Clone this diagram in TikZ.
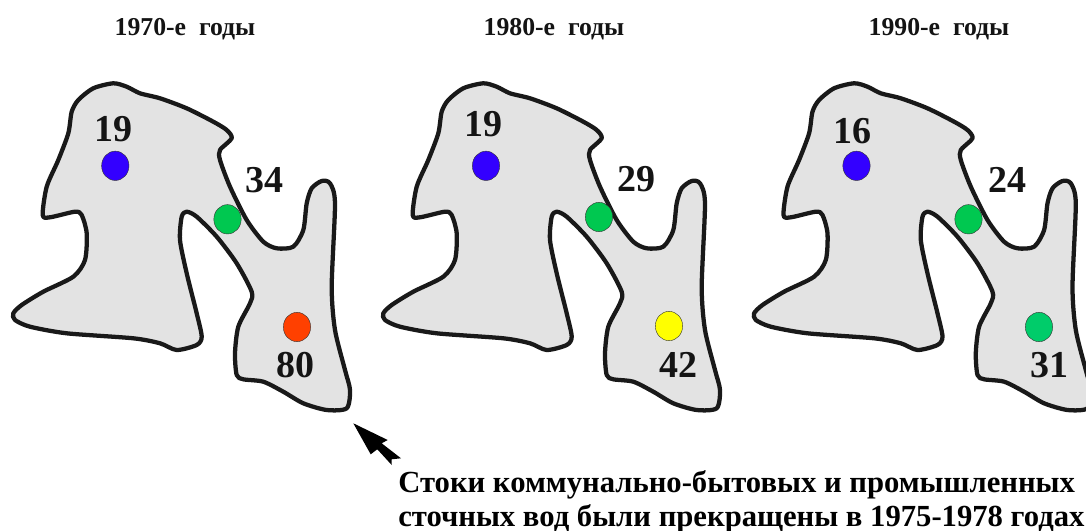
\documentclass[tikz,border=0pt]{standalone}
\usepackage{fontspec}
\usetikzlibrary{shapes.geometric}
\setmainfont{Liberation Serif}
\newcommand{\lakeoutline}{
 (140.0,93.3) (126.7,86.7) (113.3,83.3) (93.3,88.3) (78.3,100.0) (71.7,111.7) (68.3,133.3) (58.3,160.0) (46.7,186.7) (42.7,215.0)
 (50.0,217.3) (75.0,211.7) (81.7,215.0) (86.7,233.3) (85.0,260.0) (73.3,276.7) (43.3,291.7) (21.7,305.0) (13.3,313.3)
 (15.0,320.0) (30.0,326.7) (66.7,333.3) (133.3,338.3) (160.0,343.3) (176.7,350.0) (196.7,345.0) (201.7,336.7)
 (196.7,313.3) (186.7,273.3) (180.0,240.0) (181.7,216.7) (186.7,211.7) (196.7,216.7) (216.7,236.7) (236.7,263.3)
 (251.7,291.7) (250.0,303.3) (238.3,326.7) (235.0,353.3) (236.7,375.0) (243.3,379.3) (263.3,381.7) (283.3,391.7)
 (303.3,403.3) (326.7,410.0) (346.7,408.3) (350.0,390.0) (345.0,370.0) (335.0,330.0) (331.7,286.7) (335.0,203.3)
 (330.0,183.3) (321.7,181.0) (311.7,188.3) (306.7,203.3) (303.3,230.0) (293.3,246.7) (276.7,248.3) (263.3,241.7)
 (246.7,220.0) (230.0,186.7) (220.0,160.0) (220.0,150.0) (231.7,138.3) (226.7,130.0) (213.3,121.7) (186.7,108.3) (160.0,98.3)
}
\tikzset{
 x=0.75pt,y=-0.75pt,
 lake/.style={draw=black!90,fill=black!11,line width=3.2pt,line join=round,smooth cycle,tension=0.45},
 site/.style={ellipse,draw=black!80,line width=0.3pt,minimum width=20.5pt,minimum height=22pt,inner sep=0pt},
 years/.style={font=\bfseries\fontsize{19.3pt}{22pt}\selectfont,text=black!92},
 count/.style={font=\bfseries\fontsize{28.5pt}{30pt}\selectfont,text=black!92},
 note/.style={font=\bfseries\fontsize{23pt}{25.4pt}\selectfont,align=left,anchor=north west,inner sep=0pt}
}
\definecolor{sblue}{HTML}{3300FF}
\definecolor{sgreen}{HTML}{00C850}
\definecolor{sgreenb}{HTML}{00CC6A}
\definecolor{sred}{HTML}{FF4000}
\definecolor{syellow}{HTML}{FFFF00}
\begin{document}
\begin{tikzpicture}
\useasboundingbox (0,0) rectangle (1086,531);
\clip (0,0) rectangle (1086,531);
\fill[white] (0,0) rectangle (1086,531);
\node[years] (y1) at (185,29) {1970-е\ \ годы};
\node[years] (y2) at (554,29) {1980-е\ \ годы};
\node[years] (y3) at (939,29) {1990-е\ \ годы};
\draw[lake] plot coordinates {\lakeoutline};
\begin{scope}[xshift=277.5pt]
\draw[lake] plot coordinates {\lakeoutline};
\end{scope}
\begin{scope}[xshift=555.6pt]
\draw[lake] plot coordinates {\lakeoutline};
\end{scope}
\node[site,fill=sblue] (a1) at (115.3,165.8) {};
\node[site,fill=sgreen] (a2) at (227.5,219.3) {};
\node[site,fill=sred] (a3) at (297,327) {};
\node[site,fill=sblue] (b1) at (486,165.8) {};
\node[site,fill=sgreen] (b2) at (599,217) {};
\node[site,fill=syellow] (b3) at (669,326) {};
\node[site,fill=sblue] (c1) at (856.5,165.8) {};
\node[site,fill=sgreen] (c2) at (968.5,219.3) {};
\node[site,fill=sgreenb] (c3) at (1039,327) {};
\node[count] (n1) at (113,129) {19};
\node[count] (n2) at (264.5,180) {34};
\node[count] (n3) at (295,365) {80};
\node[count] (n4) at (483,124) {19};
\node[count] (n5) at (636.5,179) {29};
\node[count] (n6) at (678,365) {42};
\node[count] (n7) at (852,131) {16};
\node[count] (n8) at (1007,180) {24};
\node[count] (n9) at (1049,365) {31};
\fill[black] (353.3,423.3) -- (387.7,440) -- (381.7,443.3) -- (401,458.3) -- (391.7,459.3) -- (391.7,465) -- (377.3,449.3) -- (370.7,454.3) -- cycle;
\node[note] (t) at (398,470) {Стоки коммунально-бытовых и промышленных\\сточных вод были прекращены в 1975-1978 годах};
\end{tikzpicture}
\end{document}
